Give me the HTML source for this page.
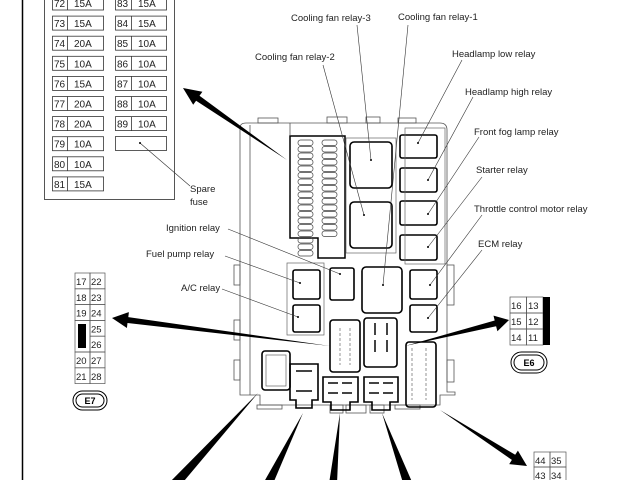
<!DOCTYPE html>
<html><head><meta charset="utf-8"><style>
html,body{margin:0;padding:0;background:#fff;}
svg{display:block;font-family:"Liberation Sans",sans-serif;}
</style></head><body>
<svg id="s" width="640" height="480" viewBox="0 0 640 480" xmlns="http://www.w3.org/2000/svg">
<rect width="640" height="480" fill="#fff"/>
<line x1="22.5" y1="0" x2="22.5" y2="480" stroke="#000" stroke-width="1.5"/>
<!-- fuse panel -->
<path d="M44.5 0 V199.5 H174.5 V0" fill="none" stroke="#555" stroke-width="1"/>
<g fill="none" stroke="#333" stroke-width="0.8">
<g id="fl"></g>
</g>
<g font-size="10" fill="#222" id="ft"></g>
<rect x="115.5" y="136.5" width="51" height="14" fill="none" stroke="#333" stroke-width="0.8"/>
<line x1="140" y1="143" x2="190" y2="186" stroke="#333" stroke-width="0.6"/>
<circle cx="140" cy="143" r="1" fill="#000"/>
<text x="190" y="192" font-size="9.5" fill="#222">Spare</text>
<text x="190" y="205" font-size="9.5" fill="#222">fuse</text>

<!-- main box -->
<g fill="none" stroke="#555" stroke-width="0.8">
<path d="M240 128 Q240 123 246 123 H440 Q447 123 447 130 V392 H455 V395 H440 V405 H260 V395 H240 Z"/>
<line x1="250" y1="125" x2="250" y2="395"/>
<line x1="290" y1="123" x2="290" y2="135"/>
<rect x="258" y="118" width="20" height="5"/>
<rect x="327" y="117" width="20" height="6"/>
<rect x="366" y="117" width="14" height="6"/>
<rect x="398" y="118" width="18" height="5"/>
<rect x="234" y="265" width="6" height="20"/><rect x="234" y="320" width="6" height="20"/>
<rect x="234" y="360" width="6" height="20"/>
<rect x="447" y="265" width="7" height="40"/><rect x="447" y="360" width="7" height="22"/>
<rect x="330" y="405" width="13" height="8"/><rect x="346" y="405" width="20" height="8"/><rect x="370" y="405" width="14" height="8"/>
<rect x="257" y="405" width="25" height="4"/><rect x="395" y="405" width="25" height="4"/>
</g>
<!-- fuse block -->
<path d="M290 136 H345 V258 H318 V238 H290 Z" fill="none" stroke="#000" stroke-width="1.5"/>
<g fill="none" stroke="#444" stroke-width="0.7" id="fb"></g>
<!-- relay housings -->
<g fill="none" stroke="#000" stroke-width="1.6">
<rect x="350" y="142" width="42" height="46" rx="4"/>
<rect x="350" y="202" width="42" height="46" rx="4"/>
<rect x="400" y="135" width="37" height="23" rx="2"/>
<rect x="400" y="168" width="37" height="24" rx="2"/>
<rect x="400" y="201" width="37" height="24" rx="2"/>
<rect x="400" y="235" width="37" height="25" rx="2"/>
<rect x="293" y="270" width="27" height="29" rx="2"/>
<rect x="293" y="305" width="27" height="27" rx="2"/>
<rect x="330" y="268" width="24" height="32" rx="2"/>
<rect x="362" y="267" width="40" height="46" rx="4"/>
<rect x="410" y="270" width="27" height="29" rx="2"/>
<rect x="410" y="305" width="27" height="27" rx="2"/>
<rect x="330" y="320" width="30" height="52" rx="3"/>
<rect x="364" y="318" width="33" height="49" rx="3"/>
<rect x="406" y="342" width="30" height="65" rx="3"/>
<rect x="262" y="351" width="28" height="39" rx="3"/>
<path d="M290 364 H318 V400 H312 V408 H296 V400 H290 Z"/>
<path d="M323 377 H358 V402 H350 V410 H331 V402 H323 Z"/>
<path d="M364 377 H398 V402 H390 V410 H372 V402 H364 Z"/>
</g>
<g fill="none" stroke="#666" stroke-width="0.7">
<rect x="287" y="263" width="37" height="72"/><rect x="405" y="128" width="40" height="136"/>
<rect x="346" y="138" width="50" height="115"/>
<line x1="412" y1="348" x2="412" y2="400" stroke-dasharray="3 2"/>
<line x1="426" y1="348" x2="426" y2="400" stroke-dasharray="3 2"/>
<line x1="340" y1="328" x2="340" y2="365" stroke-dasharray="3 2"/>
<line x1="350" y1="328" x2="350" y2="365" stroke-dasharray="3 2"/>
<rect x="266" y="355" width="20" height="31"/>
</g>
<g fill="#444">
<rect x="374" y="323" width="2" height="12"/><rect x="374" y="340" width="2" height="12"/><rect x="386" y="323" width="2" height="12"/><rect x="386" y="340" width="2" height="12"/>
<rect x="296" y="370" width="16" height="2"/><rect x="296" y="390" width="16" height="2"/>
<rect x="328" y="382" width="10" height="2"/><rect x="342" y="382" width="10" height="2"/><rect x="328" y="392" width="10" height="2"/><rect x="342" y="392" width="10" height="2"/>
<rect x="369" y="382" width="10" height="2"/><rect x="383" y="382" width="10" height="2"/><rect x="369" y="392" width="10" height="2"/><rect x="383" y="392" width="10" height="2"/>
</g>
<!-- leaders -->
<g stroke="#333" stroke-width="0.6">
<line x1="357" y1="25" x2="371" y2="160"/>
<line x1="408" y1="25" x2="383" y2="285"/>
<line x1="323" y1="65" x2="364" y2="215"/>
<line x1="462" y1="60" x2="418" y2="143"/>
<line x1="473" y1="97" x2="428" y2="180"/>
<line x1="479" y1="137" x2="428" y2="214"/>
<line x1="482" y1="177" x2="428" y2="247"/>
<line x1="482" y1="215" x2="430" y2="285"/>
<line x1="482" y1="250" x2="428" y2="318"/>
<line x1="228" y1="229" x2="340" y2="274"/>
<line x1="225" y1="256" x2="300" y2="283"/>
<line x1="222" y1="289" x2="298" y2="317"/>
</g>
<g fill="#000">
<circle cx="371" cy="160" r="1"/><circle cx="383" cy="285" r="1"/><circle cx="364" cy="215" r="1"/>
<circle cx="418" cy="143" r="1"/><circle cx="428" cy="180" r="1"/><circle cx="428" cy="214" r="1"/>
<circle cx="428" cy="247" r="1"/><circle cx="430" cy="285" r="1"/><circle cx="428" cy="318" r="1"/>
<circle cx="340" cy="274" r="1"/><circle cx="300" cy="283" r="1"/><circle cx="298" cy="317" r="1"/>
</g>
<g font-size="9.5" fill="#222">
<text x="291" y="21">Cooling fan relay-3</text>
<text x="398" y="20">Cooling fan relay-1</text>
<text x="255" y="60">Cooling fan relay-2</text>
<text x="452" y="57">Headlamp low relay</text>
<text x="465" y="95">Headlamp high relay</text>
<text x="474" y="135">Front fog lamp relay</text>
<text x="476" y="173">Starter relay</text>
<text x="474" y="212">Throttle control motor relay</text>
<text x="478" y="247">ECM relay</text>
<text x="166" y="231">Ignition relay</text>
<text x="146" y="257">Fuel pump relay</text>
<text x="181" y="291">A/C relay</text>
</g>
<!-- E7 -->
<g fill="none" stroke="#555" stroke-width="0.7" id="e7"></g>
<g font-size="9.5" fill="#222" id="e7t"></g>
<rect x="78" y="324" width="8" height="24" fill="#000"/>
<rect x="73" y="391" width="34" height="19" rx="9.5" fill="none" stroke="#000" stroke-width="1"/>
<rect x="76" y="394" width="28" height="13" rx="6.5" fill="none" stroke="#000" stroke-width="1"/>
<text x="90" y="404" font-size="9" font-weight="bold" text-anchor="middle">E7</text>
<!-- E6 -->
<g fill="none" stroke="#555" stroke-width="0.7" id="e6"></g>
<g font-size="9.5" fill="#222" id="e6t"></g>
<rect x="543" y="297" width="7" height="48" fill="#000"/>
<rect x="511" y="352" width="36" height="21" rx="10.5" fill="none" stroke="#000" stroke-width="1"/>
<rect x="514" y="355" width="30" height="15" rx="7.5" fill="none" stroke="#000" stroke-width="1"/>
<text x="529" y="366" font-size="9" font-weight="bold" text-anchor="middle">E6</text>
<g fill="none" stroke="#555" stroke-width="0.7" id="e9"></g>
<g font-size="9.5" fill="#222" id="e9t"></g>
<g fill="#000" id="ar"></g>
</svg>
<script>
var N="http://www.w3.org/2000/svg";
function el(p,t,a,txt){var e=document.createElementNS(N,t);for(var k in a)e.setAttribute(k,a[k]);if(txt!=null)e.textContent=txt;document.getElementById(p).appendChild(e);}
var L=[[72,"15A"],[73,"15A"],[74,"20A"],[75,"10A"],[76,"15A"],[77,"20A"],[78,"20A"],[79,"10A"],[80,"10A"],[81,"15A"]];
var R=[[83,"15A"],[84,"15A"],[85,"10A"],[86,"10A"],[87,"10A"],[88,"10A"],[89,"10A"]];
L.forEach(function(f,i){var y=-4+i*20.1;el("fl","rect",{x:52.5,y:y,width:51,height:14});el("fl","line",{x1:67.5,y1:y,x2:67.5,y2:y+14});el("ft","text",{x:54,y:y+11},f[0]);el("ft","text",{x:74,y:y+11},f[1]);});
R.forEach(function(f,i){var y=-4+i*20.1;el("fl","rect",{x:115.5,y:y,width:51,height:14});el("fl","line",{x1:131.5,y1:y,x2:131.5,y2:y+14});el("ft","text",{x:117,y:y+11},f[0]);el("ft","text",{x:138,y:y+11},f[1]);});
// fuse block cells
for(var c=0;c<2;c++){var x=c?322:298;for(var y=140;y<(c?233:256);y+=6.5){el("fb","rect",{x:x,y:y,width:15,height:5.5,rx:2.5});}}
// E7
var e7=[["17","22"],["18","23"],["19","24"],["","25"],["","26"],["20","27"],["21","28"]];
e7.forEach(function(r,i){var y=273+i*15.8;el("e7","rect",{x:90,y:y,width:15,height:15.8});if(i!=3&&i!=4){el("e7","rect",{x:75,y:y,width:15,height:15.8});el("e7t","text",{x:76,y:y+12},r[0]);}el("e7t","text",{x:91,y:y+12},r[1]);});
el("e7","rect",{x:75,y:273+3*15.8,width:15,height:31.6});
var e6=[["16","13"],["15","12"],["14","11"]];
e6.forEach(function(r,i){var y=297+i*16;el("e6","rect",{x:510,y:y,width:16.5,height:16});el("e6","rect",{x:526.5,y:y,width:16.5,height:16});el("e6t","text",{x:511,y:y+12},r[0]);el("e6t","text",{x:528,y:y+12},r[1]);});
[["44","35"],["43","34"]].forEach(function(r,i){var y=452+i*15;el("e9","rect",{x:534,y:y,width:16,height:15});el("e9","rect",{x:550,y:y,width:16,height:15});el("e9t","text",{x:535,y:y+12},r[0]);el("e9t","text",{x:551,y:y+12},r[1]);});
// arrows: wedge from (x1,y1) thin to (x2,y2) with head
function arrow(x1,y1,x2,y2,w,hw,hl){var dx=x2-x1,dy=y2-y1,l=Math.hypot(dx,dy),ux=dx/l,uy=dy/l,px=-uy,py=ux;
var bx=x2-ux*hl,by=y2-uy*hl;var pts=[[x1,y1],[bx+px*w,by+py*w],[bx+px*hw,by+py*hw],[x2,y2],[bx-px*hw,by-py*hw],[bx-px*w,by-py*w]];
el("ar","polygon",{points:pts.map(function(p){return p[0].toFixed(1)+","+p[1].toFixed(1)}).join(" ")});}
function wedge(x1,y1,x2,y2,w){var dx=x2-x1,dy=y2-y1,l=Math.hypot(dx,dy),px=-dy/l,py=dx/l;
el("ar","polygon",{points:[x1,y1,x2+px*w,y2+py*w,x2-px*w,y2-py*w].join(" ")});}
arrow(287,160,183,88,3,8,18);
arrow(330,346,112,318,3,8,16);
arrow(405,346,509,320,3,8,14);
arrow(440,410,527,466,3,8,16);
wedge(258,393,175,484,5);
wedge(303,413,268,484,4.5);
wedge(340,413,333,484,4);
wedge(382,413,408,484,4.5);
</script>
</body></html>
